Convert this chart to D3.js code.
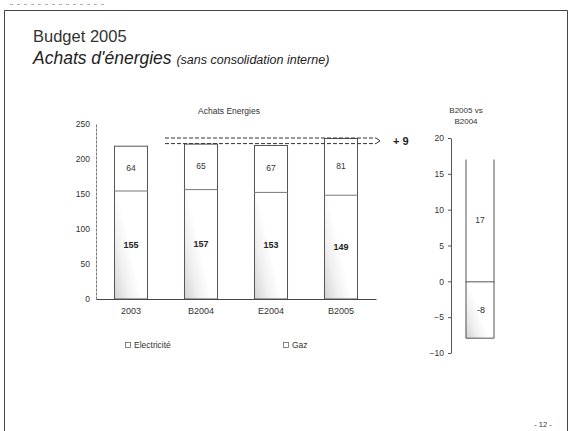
<!DOCTYPE html>
<html>
<head>
<meta charset="utf-8">
<script src="https://cdn.jsdelivr.net/npm/d3@7"></script>
<style>
  html, body { margin: 0; padding: 0; background: #fff; }
  svg { display: block; font-family: "Liberation Sans", Arial, Helvetica, sans-serif; }
</style>
</head>
<body>
<svg id="chart" width="570" height="431"></svg>
<script>
// Energy purchases by year (M€), split electricity / gas
const categories = ["2003", "B2004", "E2004", "B2005"];
const electricite = [155, 157, 153, 149];
const gaz = [64, 65, 67, 81];
const mainTicks = [0, 50, 100, 150, 200, 250];

// Variance B2005 vs B2004
const varCategory = ["B2005 vs B2004"];
const varElectricite = [-8];
const varGaz = [17];
const varTicks = [-10, -5, 0, 5, 10, 15, 20];
const varTotalLabel = "+ 9";

const svg = d3.select("#chart");
const ink = "#333";
const stroke = "#555";

// page frame
svg.append("path")
  .attr("d", "M4.5,431 V10.5 H567.5 V431")
  .attr("fill", "none").attr("stroke", "#444").attr("stroke-width", 1);
svg.append("line")
  .attr("x1", 10).attr("x2", 104).attr("y1", 4.5).attr("y2", 4.5)
  .attr("stroke", "#999").attr("stroke-width", 0.8).attr("stroke-dasharray", "3,4");

// headings
svg.append("text").attr("x", 33).attr("y", 42)
  .attr("font-size", 16.5).attr("fill", ink).text("Budget 2005");
const h2 = svg.append("text").attr("x", 33).attr("y", 64)
  .attr("font-style", "italic").attr("fill", "#222");
h2.append("tspan").attr("font-size", 17.5).text("Achats d'énergies ");
h2.append("tspan").attr("font-size", 12.5).text("(sans consolidation interne)");

// gradient used for the electricity segment shading
const defs = svg.append("defs");
const grad = defs.append("linearGradient").attr("id", "elecShade")
  .attr("x1", 0).attr("x2", 1).attr("y1", 1).attr("y2", 0.3);
grad.append("stop").attr("offset", "0%").attr("stop-color", "#d2d2d2");
grad.append("stop").attr("offset", "30%").attr("stop-color", "#f0f0f0");
grad.append("stop").attr("offset", "55%").attr("stop-color", "#fff");

// ---- main stacked chart ----
const x = d3.scaleBand().domain(categories).range([96, 376])
  .paddingInner(0.514).paddingOuter(0.257);
const y = d3.scaleLinear().domain([0, 250]).range([299, 124]);

const yAxis = svg.append("g").attr("transform", "translate(96,0)")
  .call(d3.axisLeft(y).tickValues(mainTicks).tickSize(0).tickPadding(6));
yAxis.select(".domain").attr("stroke", "#777").attr("stroke-dasharray", "3,1");
yAxis.selectAll("text").attr("font-size", 8.5).attr("fill", ink)
  .attr("font-family", "Liberation Sans, Arial, sans-serif");

const xAxis = svg.append("g").attr("transform", `translate(0,${y(0)})`)
  .call(d3.axisBottom(x).tickSize(0).tickPadding(9));
xAxis.select(".domain").attr("stroke", "#444");
xAxis.selectAll("text").attr("font-size", 9).attr("fill", ink)
  .attr("font-family", "Liberation Sans, Arial, sans-serif");

svg.append("text").attr("x", 229).attr("y", 114).attr("text-anchor", "middle")
  .attr("font-size", 8.5).attr("fill", ink).text("Achats Energies");

const rows = categories.map((c, i) => ({ c, e: electricite[i], g: gaz[i] }));
const bars = svg.append("g").selectAll("g").data(rows).join("g");

bars.append("rect")
  .attr("x", d => x(d.c)).attr("width", x.bandwidth())
  .attr("y", d => y(d.e)).attr("height", d => y(0) - y(d.e))
  .attr("fill", "url(#elecShade)");
bars.append("rect")
  .attr("x", d => x(d.c)).attr("width", x.bandwidth())
  .attr("y", d => y(d.e + d.g)).attr("height", d => y(d.e) - y(d.e + d.g))
  .attr("fill", "#fff");
// outline of the stacked bar
bars.append("rect")
  .attr("x", d => x(d.c) + 0.5).attr("width", x.bandwidth() - 1)
  .attr("y", d => y(d.e + d.g) + 0.5).attr("height", d => y(0) - y(d.e + d.g) - 0.5)
  .attr("fill", "none").attr("stroke", stroke).attr("stroke-width", 1);
// electricity / gas split
bars.append("line")
  .attr("x1", d => x(d.c)).attr("x2", d => x(d.c) + x.bandwidth())
  .attr("y1", d => y(d.e) + 0.5).attr("y2", d => y(d.e) + 0.5)
  .attr("stroke", "#777").attr("stroke-width", 1);

bars.append("text")
  .attr("x", d => x(d.c) + x.bandwidth() / 2).attr("y", d => y(d.e / 2) + 3)
  .attr("text-anchor", "middle").attr("font-size", 9).attr("font-weight", "bold")
  .attr("fill", "#222").text(d => d.e);
bars.append("text")
  .attr("x", d => x(d.c) + x.bandwidth() / 2).attr("y", d => y(d.e + d.g / 2) + 3)
  .attr("text-anchor", "middle").attr("font-size", 8.5)
  .attr("fill", ink).text(d => d.g);

// totals B2004 vs B2005 dashed guides
const totB2004 = electricite[1] + gaz[1];
const totB2005 = electricite[3] + gaz[3];
const gx0 = x("B2004") - 19, gx1 = 376;
[totB2004, totB2005].forEach(t => {
  svg.append("line").attr("x1", gx0).attr("x2", gx1)
    .attr("y1", y(t)).attr("y2", y(t))
    .attr("stroke", "#333").attr("stroke-width", 1).attr("stroke-dasharray", "4,2");
});
svg.append("path")
  .attr("d", `M${gx1},${y(totB2005)} L${gx1 + 4},${(y(totB2005) + y(totB2004)) / 2} L${gx1},${y(totB2004)}`)
  .attr("fill", "none").attr("stroke", "#333").attr("stroke-width", 1);
svg.append("text").attr("x", 393).attr("y", (y(totB2005) + y(totB2004)) / 2 + 4)
  .attr("font-size", 11).attr("font-weight", "bold").attr("fill", "#222").text(varTotalLabel);

// legend
const legend = [{ label: "Electricité", x: 125 }, { label: "Gaz", x: 283 }];
const lg = svg.append("g").selectAll("g").data(legend).join("g")
  .attr("transform", d => `translate(${d.x},348)`);
lg.append("rect").attr("x", 0.5).attr("y", -5.5).attr("width", 5).attr("height", 5)
  .attr("fill", "#fff").attr("stroke", "#666").attr("stroke-width", 0.8);
lg.append("text").attr("x", 9).attr("y", 0).attr("font-size", 8.5).attr("fill", ink)
  .text(d => d.label);

// ---- variance chart ----
const vx = d3.scaleBand().domain(varCategory).range([451, 509])
  .paddingInner(0.5).paddingOuter(0.25);
const vy = d3.scaleLinear().domain([-10, 20]).range([353, 138]);

const vAxis = svg.append("g").attr("transform", "translate(451,0)")
  .call(d3.axisLeft(vy).tickValues(varTicks).tickSize(3).tickSizeOuter(0).tickPadding(4));
vAxis.select(".domain").attr("stroke", "#555");
vAxis.selectAll(".tick line").attr("stroke", "#555");
vAxis.selectAll("text").attr("font-size", 8.5).attr("fill", ink)
  .attr("font-family", "Liberation Sans, Arial, sans-serif");

svg.append("text").attr("x", 466).attr("y", 113).attr("text-anchor", "middle")
  .attr("font-size", 8).attr("fill", ink).text("B2005 vs");
svg.append("text").attr("x", 466).attr("y", 124).attr("text-anchor", "middle")
  .attr("font-size", 8).attr("fill", ink).text("B2004");

const vc = varCategory[0];
const bx0 = vx(vc), bw = vx.bandwidth();
svg.append("rect").attr("x", bx0).attr("width", bw)
  .attr("y", vy(0)).attr("height", vy(varElectricite[0]) - vy(0))
  .attr("fill", "url(#elecShade)");
svg.append("rect").attr("x", bx0).attr("width", bw)
  .attr("y", vy(varGaz[0])).attr("height", vy(0) - vy(varGaz[0]))
  .attr("fill", "#fff");
svg.append("path")
  .attr("d", `M${bx0 + 0.5},${vy(varGaz[0])} V${vy(varElectricite[0]) - 0.5} H${bx0 + bw - 0.5} V${vy(varGaz[0])}`)
  .attr("fill", "none").attr("stroke", stroke).attr("stroke-width", 1);
svg.append("line").attr("x1", bx0).attr("x2", bx0 + bw)
  .attr("y1", vy(0) + 0.5).attr("y2", vy(0) + 0.5)
  .attr("stroke", stroke).attr("stroke-width", 1);
svg.append("text").attr("x", bx0 + bw / 2).attr("y", vy(varGaz[0] / 2) + 3)
  .attr("text-anchor", "middle").attr("font-size", 8.5).attr("fill", ink).text(varGaz[0]);
svg.append("text").attr("x", bx0 + bw / 2 + 1).attr("y", vy(varElectricite[0] / 2) + 3)
  .attr("text-anchor", "middle").attr("font-size", 9).attr("fill", "#222").text(varElectricite[0]);

// page number
svg.append("text").attr("x", 543).attr("y", 427).attr("text-anchor", "middle")
  .attr("font-size", 7.5).attr("fill", ink).text("- 12 -");
</script>
</body>
</html>
